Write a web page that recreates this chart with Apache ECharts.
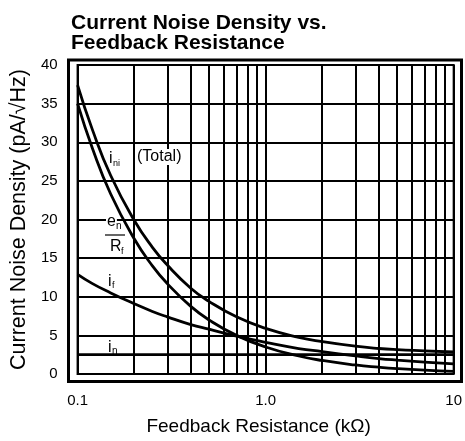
<!DOCTYPE html>
<html>
<head>
<meta charset="utf-8">
<script src="https://cdn.jsdelivr.net/npm/echarts@6/dist/echarts.min.js"></script>
<style>
  html, body { margin: 0; padding: 0; background: #fff; }
  #chart { width: 465px; height: 441px; }
</style>
</head>
<body>
<div id="chart"></div>
<script>
// feedback resistance samples (kOhm), read at these points
const resistance = [0.1, 0.12, 0.15, 0.2, 0.25, 0.3, 0.4, 0.5, 0.7, 1, 1.5, 2, 3, 4, 5, 7, 10]
// curves (pA/rtHz)
const totalNoise = [37.4, 31.6, 25.7, 19.9, 16.4, 14.1, 11.1, 9.4, 7.4, 5.9, 4.75, 4.2, 3.6, 3.3, 3.15, 3.0, 2.85]
const enOverRf = [35, 29.2, 23.3, 17.5, 14, 11.7, 8.75, 7, 5, 3.5, 2.33, 1.75, 1.17, 0.88, 0.7, 0.5, 0.35]
const feedbackNoise = [12.9, 11.7, 10.5, 9.1, 8.1, 7.4, 6.4, 5.8, 4.9, 4.1, 3.3, 2.9, 2.35, 2.0, 1.8, 1.55, 1.3]
// i_n is flat across the range
const inputNoiseX = [0.1, 10]
const inputNoise = [2.5, 2.5]
// extra vertical grid lines between decades
const minorGridX = [0.2, 0.3, 0.4, 0.5, 0.6, 0.7, 0.8, 0.9, 2, 3, 4, 5, 6, 7, 8, 9]
const xLabels = { 0.1: '0.1', 1: '1.0', 10: '10' }

const font = 'Liberation Sans, Arial, Helvetica, sans-serif'
const chart = echarts.init(document.getElementById('chart'))

function pairs(xs, ys) {
  return xs.map((x, i) => [x, ys[i]])
}

function curve(name, xs, ys, extra) {
  return Object.assign({
    name: name,
    type: 'line',
    data: pairs(xs, ys),
    smooth: true,
    showSymbol: false,
    silent: true,
    z: 5,
    lineStyle: { color: '#000', width: 2.8 }
  }, extra || {})
}

function label(text, x, y, size, bg) {
  return {
    type: 'text',
    x: x,
    y: y,
    z: 20,
    style: {
      text: text,
      fontFamily: font,
      fontSize: size,
      fill: '#000',
      backgroundColor: bg ? '#fff' : 'transparent',
      padding: bg ? [0, 1] : 0
    }
  }
}

const option = {
  animation: false,
  title: {
    text: 'Current Noise Density vs.\nFeedback Resistance',
    left: 66,
    top: 8,
    textStyle: { fontFamily: font, fontSize: 21, fontWeight: 'bold', lineHeight: 20, color: '#000' }
  },
  grid: {
    left: 76,
    right: 9,
    top: 65,
    bottom: 66,
    show: true,
    borderColor: '#000',
    borderWidth: 2,
    backgroundColor: '#fff'
  },
  xAxis: {
    type: 'log',
    logBase: 10,
    min: 0.1,
    max: 10,
    name: 'Feedback Resistance (kΩ)',
    nameLocation: 'middle',
    nameGap: 43,
    nameTextStyle: { fontFamily: font, fontSize: 19, color: '#000', padding: [0, 14, 0, 0] },
    axisLine: { show: false },
    axisTick: { show: false },
    axisLabel: {
      fontFamily: font, fontSize: 15, color: '#000', margin: 19,
      formatter: v => xLabels[v] || ''
    },
    splitLine: { show: true, lineStyle: { color: '#000', width: 2 } }
  },
  yAxis: {
    type: 'value',
    min: 0,
    max: 40,
    interval: 5,
    name: 'Current Noise Density (pA/√Hz)',
    nameLocation: 'middle',
    nameGap: 47,
    nameTextStyle: { fontFamily: font, fontSize: 21.5, color: '#000' },
    axisLine: { show: false },
    axisTick: { show: false },
    axisLabel: { fontFamily: font, fontSize: 15, color: '#000', margin: 20 },
    splitLine: { show: true, lineStyle: { color: '#000', width: 2 } }
  },
  graphic: [
    // outer heavy frame
    {
      type: 'rect',
      z: 1,
      shape: { x: 68.5, y: 60, width: 393, height: 321.5 },
      style: { fill: 'none', stroke: '#000', lineWidth: 3 }
    },
    label('i', 109, 151, 16),
    label('ni', 113, 159, 9),
    label('(Total)', 136, 149, 16, true),
    label('e', 106, 214, 16, true),
    label('n', 115, 221, 10, true),
    {
      type: 'line',
      z: 20,
      shape: { x1: 105, y1: 235, x2: 125, y2: 235 },
      style: { stroke: '#000', lineWidth: 1.2 }
    },
    label('R', 109, 239, 16, true),
    label('f', 120, 247, 9, true),
    label('i', 108, 274, 16),
    label('f', 112, 281, 9),
    label('i', 108, 340, 16),
    label('n', 112, 346, 10)
  ],
  series: [
    curve('ini', resistance, totalNoise),
    curve('en/Rf', resistance, enOverRf),
    curve('if', resistance, feedbackNoise),
    curve('in', inputNoiseX, inputNoise, {
      smooth: false,
      markLine: {
        silent: true,
        symbol: 'none',
        z: 2,
        label: { show: false },
        lineStyle: { color: '#000', width: 2, type: 'solid' },
        data: minorGridX.map(v => ({ xAxis: v }))
      }
    })
  ]
}

chart.setOption(option)
</script>
</body>
</html>
